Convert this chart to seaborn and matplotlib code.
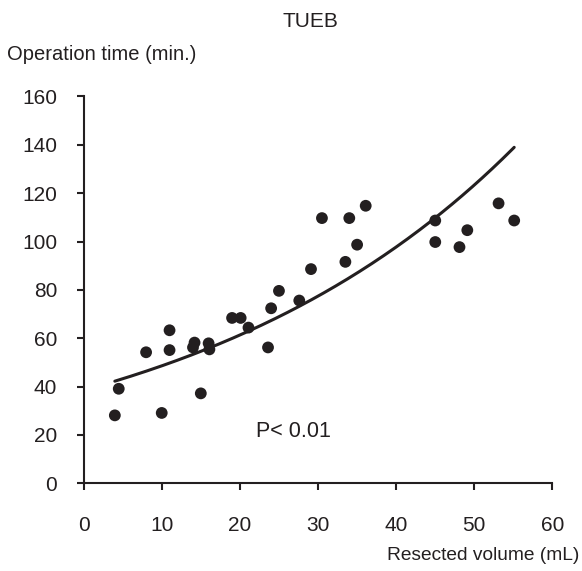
import numpy as np
import pandas as pd
import matplotlib
matplotlib.use("Agg")
import matplotlib.pyplot as plt
import seaborn as sns

# Data
resected_volume = [4.0, 4.5, 8.0, 10.0, 11.0, 11.0, 15.0, 14.2, 14.0, 16.0,
                   16.1, 19.0, 20.1, 21.1, 23.6, 24.0, 25.0, 27.6, 29.1, 30.5,
                   34.0, 36.1, 35.0, 33.5, 45.0, 45.0, 48.1, 49.1, 53.1, 55.1]
operation_time = [28.1, 39.1, 54.2, 29.1, 63.3, 55.1, 37.2, 58.2, 56.2, 57.9,
                  55.4, 68.4, 68.4, 64.4, 56.2, 72.4, 79.6, 75.6, 88.6, 109.7,
                  109.7, 114.8, 98.7, 91.6, 108.7, 99.8, 97.7, 104.7, 115.8, 108.7]
x_ticks = [0, 10, 20, 30, 40, 50, 60]
y_ticks = [0, 20, 40, 60, 80, 100, 120, 140, 160]
title = "TUEB"
x_label = "Resected volume (mL)"
y_label = "Operation time (min.)"
p_text = "P< 0.01"

df = pd.DataFrame({"volume": resected_volume, "time": operation_time})

# Exponential trend line fitted to the data (log-linear least squares)
b, ln_a = np.polyfit(df["volume"], np.log(df["time"]), 1)
fit_x = np.linspace(df["volume"].min(), df["volume"].max(), 200)
fit_df = pd.DataFrame({"volume": fit_x, "time": np.exp(ln_a) * np.exp(b * fit_x)})

sns.set_style("ticks")
plt.rcParams["font.family"] = ["Liberation Sans", "DejaVu Sans"]
ink = "#231f20"

fig = plt.figure(figsize=(5.82, 5.71), dpi=100)
ax = fig.add_axes([0.1436, 0.1536, 0.9493 - 0.1436, 0.8310 - 0.1536])

sns.lineplot(data=fit_df, x="volume", y="time", ax=ax, color=ink, linewidth=2.2)
sns.scatterplot(data=df, x="volume", y="time", ax=ax, color=ink, s=72,
                edgecolor="none", zorder=3)

ax.set_xlim(0, 60)
ax.set_ylim(0, 160)
ax.set_xticks(x_ticks)
ax.set_yticks(y_ticks)
ax.set_xlabel("")
ax.set_ylabel("")
for side in ["top", "right"]:
    ax.spines[side].set_visible(False)
for side in ["left", "bottom"]:
    ax.spines[side].set_linewidth(1.5)
    ax.spines[side].set_color(ink)
ax.tick_params(axis="x", direction="out", length=5, width=1.5, color=ink,
               labelsize=15, labelcolor=ink, pad=18.5)
ax.tick_params(axis="y", direction="out", length=5, width=1.5, color=ink,
               labelsize=15, labelcolor=ink, pad=14)

ax.text(22.1, 21.3, p_text, ha="left", va="center", fontsize=15.5, color=ink)

fig.text(0.5326, 0.953, title, ha="center", va="baseline", fontsize=15, color=ink)
fig.text(0.0125, 0.895, y_label, ha="left", va="baseline", fontsize=14.5, color=ink)
fig.text(0.995, 0.028, x_label, ha="right", va="center", fontsize=13.8, color=ink)

fig.savefig("out.png", dpi=100)
